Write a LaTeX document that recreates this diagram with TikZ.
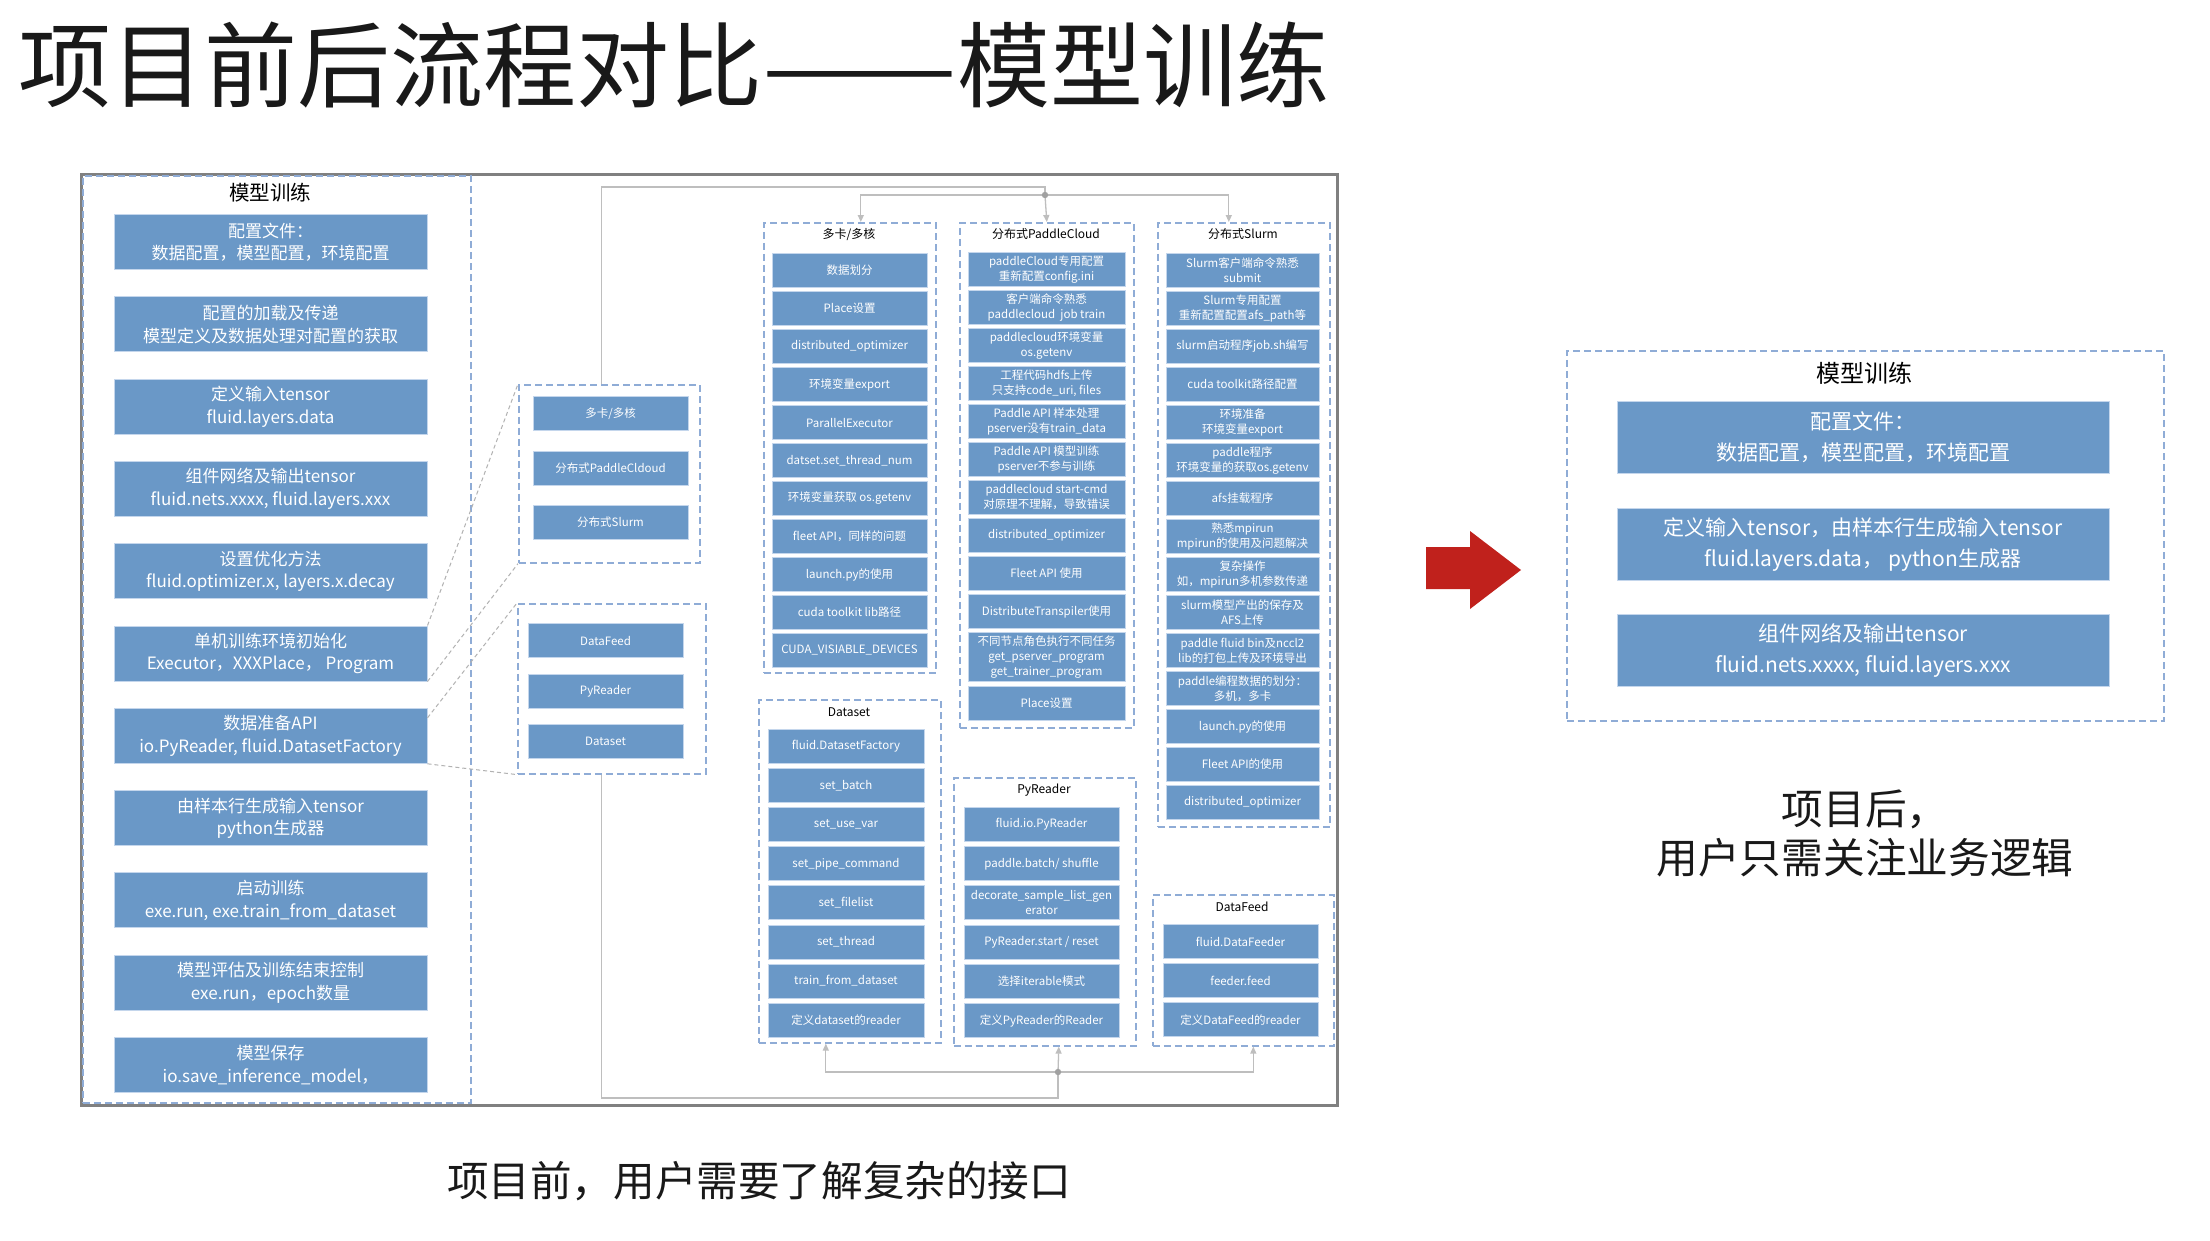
\documentclass[tikz,border=0pt]{standalone}
\usepackage{graphicx}
\usepackage{fontspec}
\setmainfont{Noto Sans CJK SC}
\usetikzlibrary{arrows.meta}
\definecolor{boxblue}{RGB}{106,152,199}
\definecolor{boxedge}{RGB}{196,214,236}
\definecolor{dashblue}{RGB}{143,172,214}
\definecolor{outergray}{RGB}{128,128,128}
\definecolor{conngray}{RGB}{190,190,190}
\definecolor{diaggray}{RGB}{178,178,178}
\definecolor{arrowred}{RGB}{192,33,28}
\definecolor{titlecol}{RGB}{25,25,25}
\newcommand\myfs[2]{\fontsize{#1}{#2}\selectfont}
\begin{document}
\begin{tikzpicture}[x=1pt,y=-1pt,
  grp/.style={rectangle, draw=dashblue, line width=1.6pt, dash pattern=on 7pt off 4pt, anchor=north west, inner sep=0pt},
  bb/.style={rectangle, fill=boxblue, draw=boxedge, line width=1pt, text=white, align=center, inner sep=0pt, anchor=north},
  lbox/.style={bb, minimum width=313pt, minimum height=55pt, font=\myfs{17}{22.5}},
  sbox/.style={bb, minimum height=34pt, font=\myfs{11.5}{15}},
  rbox/.style={bb, minimum width=492pt, minimum height=72pt, font=\myfs{21}{31}},
  gtitle/.style={font=\myfs{12}{14}, text=black, inner sep=0pt},
  conn/.style={draw=conngray, line width=1.3pt},
  arr/.style={-{Triangle[length=7pt,width=6pt]}},
  diag/.style={draw=diaggray, line width=1pt, dash pattern=on 4pt off 3pt}]
\useasboundingbox (0,0) rectangle (2210,1240);
\fill[white] (0,0) rectangle (2210,1240);

% title
\node[anchor=west, font=\myfs{93}{100}, text=titlecol, inner sep=0pt] (title) at (18,65) {项目前后流程对比\scalebox{1.25}[1]{——}模型训练};

% outer frame
\node[rectangle, draw=outergray, line width=2.5pt, minimum width=1256pt, minimum height=931pt, anchor=north west, inner sep=0pt] (frame) at (80,173) {};

% left panel
\node[grp, minimum width=388pt, minimum height=927pt] (lp) at (82,175) {};
\node[font=\myfs{20.5}{24}, inner sep=0pt] (lpt) at (270,193) {模型训练};
\foreach \t [count=\i] in {
 {配置文件：\\数据配置，模型配置，环境配置},
 {配置的加载及传递\\模型定义及数据处理对配置的获取},
 {定义输入tensor\\fluid.layers.data},
 {组件网络及输出tensor\\fluid.nets.xxxx, fluid.layers.xxx},
 {设置优化方法\\fluid.optimizer.x, layers.x.decay},
 {单机训练环境初始化\\Executor，XXXPlace， Program},
 {数据准备API\\io.PyReader, fluid.DatasetFactory},
 {由样本行生成输入tensor\\python生成器},
 {启动训练\\exe.run, exe.train\_from\_dataset},
 {模型评估及训练结束控制\\exe.run，epoch数量},
 {模型保存\\io.save\_inference\_model，}}
 \node[lbox] (l\i) at (270.5,{214+82.3*(\i-1)}) {\t};

% group A
\node[grp, minimum width=181pt, minimum height=178pt] (gA) at (518,384) {};
\foreach \t [count=\i] in {多卡/多核, 分布式PaddleCldoud, 分布式Slurm}
 \node[sbox, minimum width=155pt] (a\i) at (610.5,{396+54.5*(\i-1)}) {\t};

% group B
\node[grp, minimum width=188pt, minimum height=170pt] (gB) at (517,603) {};
\foreach \t [count=\i] in {DataFeed, PyReader, Dataset}
 \node[sbox, minimum width=155pt] (b\i) at (605.5,{623+50.5*(\i-1)}) {\t};

% column 1
\node[grp, minimum width=172pt, minimum height=450pt] (c1g) at (763,222) {};
\node[gtitle] (c1t) at (849,235) {多卡/多核};
\foreach \t [count=\i] in {数据划分, Place设置, distributed\_optimizer, 环境变量export, ParallelExecutor, datset.set\_thread\_num, 环境变量获取 os.getenv, {fleet API，同样的问题}, launch.py的使用, cuda toolkit lib路径, CUDA\_VISIABLE\_DEVICES}
 \node[sbox, minimum width=155pt] (c1-\i) at (849.5,{253+38*(\i-1)}) {\t};

% column 2
\node[grp, minimum width=174pt, minimum height=505pt] (c2g) at (959,222) {};
\node[gtitle] (c2t) at (1046,234) {分布式PaddleCloud};
\foreach \t [count=\i] in {
 {paddleCloud专用配置\\重新配置config.ini},
 {客户端命令熟悉\\paddlecloud\ \ job train},
 {paddlecloud环境变量\\os.getenv},
 {工程代码hdfs上传\\只支持code\_uri, files},
 {Paddle API 样本处理\\pserver没有train\_data},
 {Paddle API 模型训练\\pserver不参与训练},
 {paddlecloud start-cmd\\对原理不理解，导致错误},
 {distributed\_optimizer},
 {Fleet API 使用},
 {DistributeTranspiler使用}}
 \node[sbox, minimum width=157pt] (c2-\i) at (1046.5,{252+38*(\i-1)}) {\t};
\node[sbox, minimum width=157pt, minimum height=49pt] (c2-11) at (1046.5,632) {不同节点角色执行不同任务\\get\_pserver\_program\\get\_trainer\_program};
\node[sbox, minimum width=157pt] (c2-12) at (1046.5,686) {Place设置};

% column 3
\node[grp, minimum width=172pt, minimum height=604pt] (c3g) at (1157,222) {};
\node[gtitle] (c3t) at (1243,234) {分布式Slurm};
\foreach \t [count=\i] in {
 {Slurm客户端命令熟悉\\submit},
 {Slurm专用配置\\重新配置配置afs\_path等},
 {slurm启动程序job.sh编写},
 {cuda toolkit路径配置},
 {环境准备\\环境变量export},
 {paddle程序\\环境变量的获取os.getenv},
 {afs挂载程序},
 {熟悉mpirun\\mpirun的使用及问题解决},
 {复杂操作\\如，mpirun多机参数传递},
 {slurm模型产出的保存及\\AFS上传},
 {paddle fluid bin及nccl2\\lib的打包上传及环境导出},
 {paddle编程数据的划分：\\多机，多卡},
 {launch.py的使用},
 {Fleet API的使用},
 {distributed\_optimizer}}
 \node[sbox, minimum width=153pt] (c3-\i) at (1242.5,{253+38*(\i-1)}) {\t};

% Dataset
\node[grp, minimum width=182pt, minimum height=343pt] (gDS) at (758,699) {};
\node[gtitle] (dst) at (849,712) {Dataset};
\foreach \t [count=\i] in {fluid.DatasetFactory, set\_batch, set\_use\_var, set\_pipe\_command, set\_filelist, set\_thread, train\_from\_dataset, 定义dataset的reader}
 \node[sbox, minimum width=156pt] (ds-\i) at (846,{729+39.1*(\i-1)}) {\t};

% PyReader
\node[grp, minimum width=182pt, minimum height=268pt] (gPY) at (953,777) {};
\node[gtitle] (pyt) at (1044,790) {PyReader};
\foreach \t [count=\i] in {fluid.io.PyReader, paddle.batch/ shuffle, {decorate\_sample\_list\_gen\\erator}, PyReader.start / reset, 选择iterable模式, 定义PyReader的Reader}
 \node[sbox, minimum width=155pt] (py-\i) at (1041.5,{807+39.2*(\i-1)}) {\t};

% DataFeed
\node[grp, minimum width=181pt, minimum height=151pt] (gDF) at (1152,894) {};
\node[gtitle] (dft) at (1242,907) {DataFeed};
\foreach \t [count=\i] in {fluid.DataFeeder, feeder.feed, 定义DataFeed的reader}
 \node[sbox, minimum width=155pt] (df-\i) at (1240.5,{924+39.2*(\i-1)}) {\t};

% diagonal dashed links
\draw[diag] (l6.north east) -- (gA.north west);
\draw[diag] (l6.south east) -- (gA.south west);
\draw[diag] ([yshift=-10pt]l7.north east) -- (gB.north west);
\draw[diag] (l7.south east) -- (gB.south west);

% top connectors
\coordinate (dT) at (1045,195);
\draw[conn] ([xshift=-7.5pt]gA.north) |- (1045,187) -- (dT);
\draw[conn,arr] (dT) -| ([xshift=11pt]c1g.north);
\draw[conn,arr] (dT) -- (c2g.north);
\draw[conn,arr] (dT) -| ([xshift=-15pt]c3g.north);
\fill[conngray!85!black] (dT) circle (3.2pt);

% bottom connectors
\coordinate (dB) at (1058,1072);
\draw[conn] ([xshift=-10pt]gB.south) |- (1058,1098) -- (dB);
\draw[conn,arr] (dB) -| ([xshift=-24pt]gDS.south);
\draw[conn,arr] (dB) -- ([xshift=14pt]gPY.south);
\draw[conn,arr] (dB) -| ([xshift=10pt]gDF.south);
\fill[conngray!85!black] (dB) circle (3.2pt);

% caption left
\node[font=\myfs{41.6}{48}, text=titlecol, inner sep=0pt] (capL) at (759,1181) {项目前，用户需要了解复杂的接口};

% red arrow
\fill[arrowred] (1426,547) -- (1470,547) -- (1470,531) -- (1521,570) -- (1470,609) -- (1470,589) -- (1426,589) -- cycle;

% right panel
\node[grp, minimum width=597pt, minimum height=370pt] (rp) at (1566,350) {};
\node[font=\myfs{24}{28}, inner sep=0pt] (rpt) at (1864,373) {模型训练};
\node[rbox] (r1) at (1863,401) {配置文件：\\数据配置，模型配置，环境配置};
\node[rbox] (r2) at (1863,508) {定义输入tensor，由样本行生成输入tensor\\fluid.layers.data， python生成器};
\node[rbox] (r3) at (1863,614) {组件网络及输出tensor\\fluid.nets.xxxx, fluid.layers.xxx};

% caption right
\node[font=\myfs{41.7}{49}, text=titlecol, align=center, inner sep=0pt] (capR) at (1865,833) {项目后，\\用户只需关注业务逻辑};
\end{tikzpicture}
\end{document}
